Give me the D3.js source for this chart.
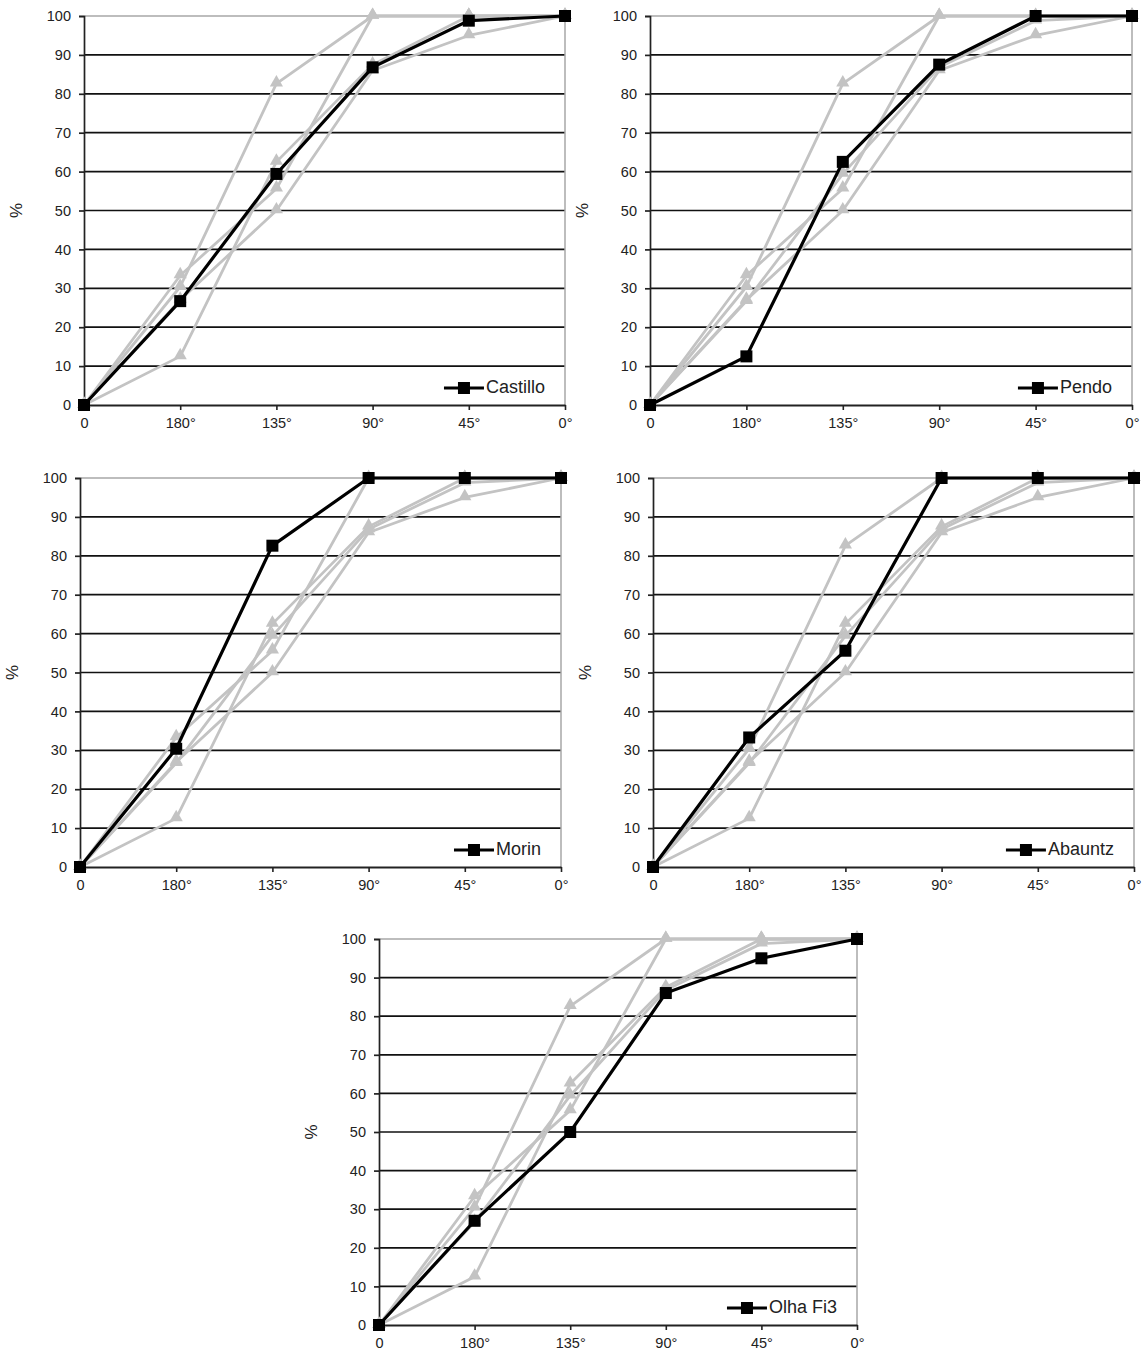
<!DOCTYPE html>
<html>
<head>
<meta charset="utf-8">
<script src="https://cdn.jsdelivr.net/npm/d3@7"></script>
<style>
  html, body { margin: 0; padding: 0; background: #fff; }
  svg { display: block; }
  text { font-family: "Liberation Sans", Arial, sans-serif; fill: #222; }
</style>
</head>
<body>
<svg id="chart" width="1142" height="1358"></svg>
<script>
// ---- data ----
const categories = ["0", "180°", "135°", "90°", "45°", "0°"];
const siteNames = ["Castillo", "Pendo", "Morin", "Abauntz", "Olha Fi3"];
const castillo = [0, 26.7, 59.4, 86.8, 98.8, 100];
const pendo    = [0, 12.5, 62.5, 87.5, 100, 100];
const morin    = [0, 30.4, 82.6, 100, 100, 100];
const abauntz  = [0, 33.3, 55.6, 100, 100, 100];
const olhaFi3  = [0, 27.0, 50.0, 86.0, 95.0, 100];
const yTicks = [0, 10, 20, 30, 40, 50, 60, 70, 80, 90, 100];

const seriesValues = [castillo, pendo, morin, abauntz, olhaFi3];

// ---- layout (one plot area per highlighted site) ----
const panels = [
  { left: 84,  right: 565,  top: 16,  bottom: 405 },
  { left: 650, right: 1132, top: 16,  bottom: 405 },
  { left: 80,  right: 561,  top: 478, bottom: 867 },
  { left: 653, right: 1134, top: 478, bottom: 867 },
  { left: 379, right: 857,  top: 939, bottom: 1325 }
];

const svg = d3.select("#chart");
const GRAY = "#c3c3c3";

panels.forEach((p, idx) => {
  const g = svg.append("g");
  const x = d3.scalePoint().domain(categories).range([p.left, p.right]).padding(0);
  const y = d3.scaleLinear().domain([0, 100]).range([p.bottom, p.top]);

  // horizontal gridlines (black)
  g.append("g").selectAll("line").data(yTicks.filter(t => t > 0 && t < 100)).join("line")
    .attr("x1", p.left).attr("x2", p.right)
    .attr("y1", d => y(d)).attr("y2", d => y(d))
    .attr("stroke", "#111").attr("stroke-width", 1.7);

  // plot border top/right (gray)
  g.append("path")
    .attr("d", `M${p.left},${y(100)}H${p.right}V${y(0)}`)
    .attr("fill", "none").attr("stroke", "#a8a8a8").attr("stroke-width", 1.5);

  // y axis
  const yAxis = d3.axisLeft(y).tickValues(yTicks).tickSize(5).tickPadding(8).tickFormat(d3.format("d"));
  const ya = g.append("g").attr("transform", `translate(${p.left},0)`).call(yAxis);
  ya.select(".domain").attr("stroke", "#222").attr("stroke-width", 1.7);
  ya.selectAll(".tick line").attr("stroke", "#222").attr("stroke-width", 1.7);
  ya.selectAll(".tick text").attr("font-size", 14.5).attr("fill", "#222")
    .attr("font-family", "'Liberation Sans', Arial, sans-serif");

  // x axis
  const xAxis = d3.axisBottom(x).tickSize(5).tickSizeOuter(0).tickPadding(8);
  const xa = g.append("g").attr("transform", `translate(0,${p.bottom})`).call(xAxis);
  xa.select(".domain").attr("stroke", "#222").attr("stroke-width", 1.8);
  xa.selectAll(".tick line").attr("stroke", "#222").attr("stroke-width", 1.6);
  xa.selectAll(".tick text").attr("font-size", 14.5).attr("fill", "#222")
    .attr("font-family", "'Liberation Sans', Arial, sans-serif");

  // y label
  g.append("text")
    .attr("transform", `translate(${p.left - 66},${(p.top + p.bottom) / 2}) rotate(-90)`)
    .attr("text-anchor", "middle").attr("dominant-baseline", "middle")
    .attr("font-size", 17).text("%");

  const line = d3.line().x((d, i) => x(categories[i])).y(d => y(d));
  const tri = d3.symbol().type(d3.symbolTriangle).size(75);

  // gray series (others)
  seriesValues.forEach((vals, si) => {
    if (si === idx) return;
    g.append("path").datum(vals).attr("d", line)
      .attr("fill", "none").attr("stroke", GRAY).attr("stroke-width", 2.8)
      .attr("stroke-linejoin", "round");
    g.append("g").selectAll("path").data(vals).join("path")
      .attr("d", tri)
      .attr("transform", (d, i) => `translate(${x(categories[i])},${y(d) - 1})`)
      .attr("fill", GRAY);
  });

  // highlighted series (black)
  const hv = seriesValues[idx];
  g.append("path").datum(hv).attr("d", line)
    .attr("fill", "none").attr("stroke", "#000").attr("stroke-width", 3.2)
    .attr("stroke-linejoin", "miter");
  g.append("g").selectAll("rect").data(hv).join("rect")
    .attr("x", (d, i) => x(categories[i]) - 6)
    .attr("y", d => y(d) - 6)
    .attr("width", 12).attr("height", 12)
    .attr("fill", "#000");

  // legend
  const legText = g.append("text")
    .attr("x", p.right - 20).attr("y", p.bottom - 17)
    .attr("text-anchor", "end").attr("dominant-baseline", "middle")
    .attr("font-size", 18).attr("fill", "#111")
    .text(siteNames[idx]);
  const bb = legText.node().getBBox();
  const lx2 = bb.x - 2, lx1 = lx2 - 40, ly = p.bottom - 17;
  g.append("line").attr("x1", lx1).attr("x2", lx2).attr("y1", ly).attr("y2", ly)
    .attr("stroke", "#000").attr("stroke-width", 3.2);
  g.append("rect").attr("x", (lx1 + lx2) / 2 - 6).attr("y", ly - 6)
    .attr("width", 12).attr("height", 12).attr("fill", "#000");
});
</script>
</body>
</html>
